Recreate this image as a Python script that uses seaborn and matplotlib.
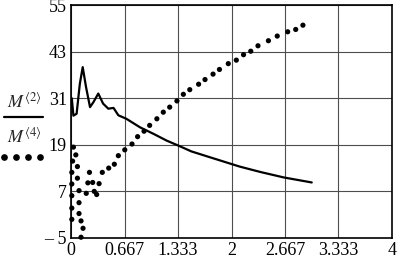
import matplotlib
matplotlib.use("Agg")
import matplotlib.pyplot as plt
import seaborn as sns
import pandas as pd
from matplotlib.lines import Line2D

# ---- data ----
x_m2 = [0.0, 0.01, 0.03, 0.07, 0.11, 0.146, 0.187, 0.237, 0.28, 0.34, 0.40, 0.465,
        0.53, 0.59, 0.69, 0.86, 1.03, 1.19, 1.337, 1.5, 1.73, 2.1, 2.36, 2.65, 3.0]
y_m2 = [29.5, 31.0, 26.5, 27.0, 34.7, 39.0, 33.9, 28.7, 30.0, 32.2, 29.6, 28.3,
        28.5, 26.6, 25.7, 23.5, 21.8, 20.1, 18.8, 17.3, 15.8, 13.4, 12.0, 10.6, 9.3]

x_m4 = [0.03, 0.06, 0.02, 0.08, 0.01, 0.08, 0.01, 0.10, 0.01, 0.10, 0.01, 0.10, 0.01,
        0.125, 0.15, 0.125,
        0.19, 0.21, 0.23, 0.27, 0.29, 0.32, 0.35, 0.39, 0.47, 0.54, 0.59, 0.67, 0.76,
        0.83, 0.91, 0.98, 1.07, 1.15, 1.23, 1.32, 1.40, 1.48, 1.59, 1.67, 1.77, 1.85,
        1.96, 2.06, 2.15, 2.24, 2.33, 2.46, 2.57, 2.70, 2.80, 2.89]
y_m4 = [18.4, 16.4, 14.8, 13.4, 11.9, 10.4, 8.9, 7.2, 5.9, 4.1, 2.7, 1.3, -0.2,
        -0.6, -2.5, -4.8,
        6.5, 9.2, 11.9, 9.3, 7.0, 6.2, 9.0, 11.9, 13.0, 14.0, 16.2, 17.7, 19.2,
        21.1, 22.5, 24.0, 25.7, 27.4, 28.7, 30.3, 32.0, 33.2, 34.6, 35.8, 37.2, 38.4,
        39.9, 40.8, 42.2, 43.1, 44.5, 45.8, 47.0, 48.1, 48.7, 49.8]

x_ticks = [0, 0.667, 1.333, 2, 2.667, 3.333, 4]
x_ticklabels = ["0", "0.667", "1.333", "2", "2.667", "3.333", "4"]
y_ticks = [-5, 7, 19, 31, 43, 55]
y_ticklabels = ["\u2013 5", "7", "19", "31", "43", "55"]

# ---- style ----
sns.set_style("white")
plt.rcParams["font.family"] = ["Liberation Serif", "DejaVu Serif"]
plt.rcParams["mathtext.fontset"] = "stix"

fig = plt.figure(figsize=(4.0, 2.64), dpi=100)
ax = fig.add_axes([71/400, 1 - 238/264, (392 - 71)/400, (238 - 5)/264])

df2 = pd.DataFrame({"x": x_m2, "y": y_m2})
df4 = pd.DataFrame({"x": x_m4, "y": y_m4})

sns.lineplot(data=df2, x="x", y="y", ax=ax, color="black", linewidth=1.6,
             sort=False, estimator=None)
sns.scatterplot(data=df4, x="x", y="y", ax=ax, color="black", s=14,
                edgecolor="none", clip_on=False)

ax.set_xlim(0, 4)
ax.set_ylim(-5, 55)
ax.set_xticks(x_ticks)
ax.set_xticklabels(x_ticklabels)
ax.set_yticks(y_ticks)
ax.set_yticklabels(y_ticklabels)
ax.tick_params(axis="both", length=0, labelsize=13, colors="black")
ax.tick_params(axis="x", pad=3)
ax.tick_params(axis="y", pad=3)
ax.grid(True, color="0.3", linewidth=0.8)
ax.set_axisbelow(True)
for sp in ax.spines.values():
    sp.set_color("black")
    sp.set_linewidth(1.2)
ax.set_xlabel("")
ax.set_ylabel("")

# ---- left-side trace labels ----
fig.text(24/400, 1 - 102/264, r"$\mathit{M}^{\langle 2\rangle}$", ha="center",
         va="center", fontsize=13)
fig.add_artist(Line2D([4/400, 43/400], [1 - 117/264, 1 - 117/264],
                      color="black", linewidth=1.6, transform=fig.transFigure))
fig.text(24/400, 1 - 137/264, r"$\mathit{M}^{\langle 4\rangle}$", ha="center",
         va="center", fontsize=13)
dots_x = [4/400, 16/400, 28/400, 40/400]
fig.add_artist(Line2D(dots_x, [1 - 157/264] * 4, color="black", linestyle="none",
                      marker="o", markersize=3.8, transform=fig.transFigure))

fig.savefig("out.png", dpi=100)
